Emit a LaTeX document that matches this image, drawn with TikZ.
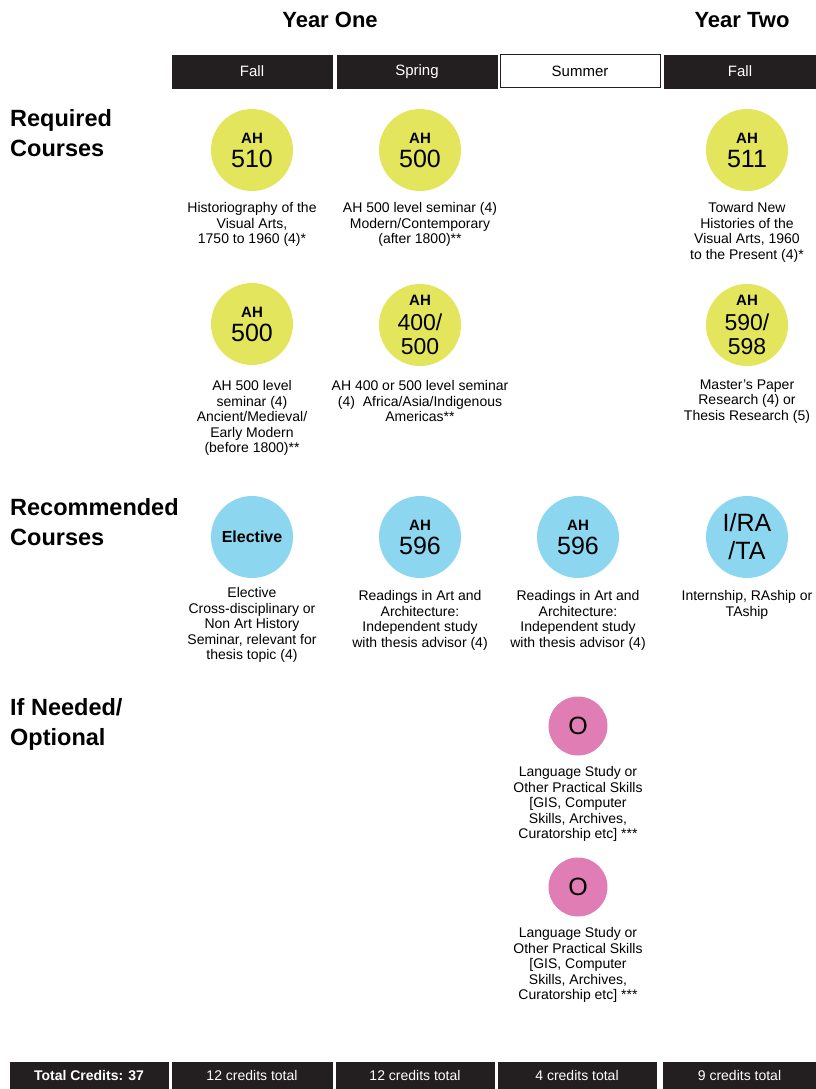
\documentclass[tikz,border=0pt]{standalone}
\usepackage{fontspec}
\setmainfont{Liberation Sans}
\definecolor{barblack}{HTML}{231F20}
\definecolor{reqyellow}{HTML}{E3E55C}
\definecolor{recblue}{HTML}{8DD6F0}
\definecolor{optpink}{HTML}{E07DB4}
\tikzset{every node/.style={inner sep=0pt},
	bar/.style={draw=barblack, fill=barblack, text=white, minimum width=160, minimum height=33, font=\fontsize{15}{17}\selectfont},
	lightbar/.style={bar, fill=white, text=black, line width=1pt},
	foot/.style={bar, minimum height=27, font=\fontsize{14}{16}\selectfont},
	rowlabel/.style={anchor=north west, align=left, font=\fontsize{23.5}{30}\selectfont\bfseries},
	yearlabel/.style={font=\fontsize{22}{24}\selectfont\bfseries},
	course/.style={circle, minimum size=82, align=center, font=\fontsize{25}{24}\selectfont},
	req/.style={course, fill=reqyellow},
	rec/.style={course, fill=recblue},
	opt/.style={course, fill=optpink, minimum size=59},
	twoline/.style={font=\fontsize{23}{24.5}\selectfont},
	desc/.style={anchor=north, align=center, font=\fontsize{14}{15.5}\selectfont}}
\newcommand{\ah}[1]{{\fontsize{15}{19}\selectfont\bfseries AH}\\#1}

\begin{document}
\begin{tikzpicture}[x=1pt, y=-1pt]
		\useasboundingbox (0,0) rectangle (816,1089);
		% years and terms
		\node[yearlabel] (y1) at (330,20){Year One};
		\node[yearlabel] (y2) at (742,20){Year Two};
		\node[bar] (fall1) at (252,71.5){Fall};
		\node[bar] (spring) at (417,71.5){Spring};
		\node[lightbar] (summer) at (580,71.5){Summer};
		\node[bar, minimum width=152] (fall2) at (740,71.5){Fall};
		% row labels
		\node[rowlabel] (reqlab) at (10,109){Required\\Courses};
		\node[rowlabel] (reclab) at (10,498){Recommended\\Courses};
		\node[rowlabel] (optlab) at (10,698){If Needed/\\Optional};
		% required courses
		\node[req] (ah510) at (252,150){\ah{510}};
		\node[desc] (d510) at (252,202.5){Historiography of the\\Visual Arts,\\1750 to 1960 (4)*};
		\node[req] (ah500a) at (420,150){\ah{500}};
		\node[desc] (d500a) at (420,202.5){AH 500 level seminar (4)\\Modern/Contemporary\\(after 1800)**};
		\node[req] (ah511) at (747,150){\ah{511}};
		\node[desc] (d511) at (747,202.5){Toward New\\Histories of the\\Visual Arts, 1960\\to the Present (4)*};
		\node[req] (ah500b) at (252,324){\ah{500}};
		\node[desc] (d500b) at (252,380.5){AH 500 level\\seminar (4)\\Ancient/Medieval/\\Early Modern\\(before 1800)**};
		\node[req, twoline] (ah400) at (420,325){\ah{400/\\500}};
		\node[desc] (d400) at (420,380.5){AH 400 or 500 level seminar\\(4)\ \ Africa/Asia/Indigenous\\Americas**};
		\node[req, twoline] (ah590) at (747,325){\ah{590/\\598}};
		\node[desc] (d590) at (747,379.5){Master's Paper\\Research (4) or\\Thesis Research (5)};
		% recommended courses
		\node[rec, font=\fontsize{16}{18}\selectfont\bfseries] (elec) at (252,537){Elective};
		\node[desc] (delec) at (252,587.5){Elective\\Cross-disciplinary or\\Non Art History\\Seminar, relevant for\\thesis topic (4)};
		\node[rec] (ah596a) at (420,537){\ah{596}};
		\node[desc] (d596a) at (420,590.5){Readings in Art and\\Architecture:\\Independent study\\with thesis advisor (4)};
		\node[rec] (ah596b) at (578,537){\ah{596}};
		\node[desc] (d596b) at (578,590.5){Readings in Art and\\Architecture:\\Independent study\\with thesis advisor (4)};
		\node[rec, font=\fontsize{25}{28}\selectfont] (irata) at (747,537){I/RA\\/TA};
		\node[desc] (dirata) at (747,590.5){Internship, RAship or\\TAship};
		% optional
		\node[opt] (opta) at (578,726){O};
		\node[desc] (dopta) at (578,766.5){Language Study or\\Other Practical Skills\\{[GIS, Computer}\\Skills, Archives,\\Curatorship etc] ***};
		\node[opt] (optb) at (578,887){O};
		\node[desc] (doptb) at (578,927.5){Language Study or\\Other Practical Skills\\{[GIS, Computer}\\Skills, Archives,\\Curatorship etc] ***};
		% credits
		\node[foot, minimum width=158, font=\fontsize{14}{16}\selectfont\bfseries] (total) at (89,1075.5){Total Credits: 37};
		\node[foot] (c1) at (252,1075.5){12 credits total};
		\node[foot, minimum width=158] (c2) at (415,1075.5){12 credits total};
		\node[foot, minimum width=158] (c3) at (577,1075.5){4 credits total};
		\node[foot, minimum width=153] (c4) at (739.5,1075.5){9 credits total};
		\end{tikzpicture}
\end{document}
